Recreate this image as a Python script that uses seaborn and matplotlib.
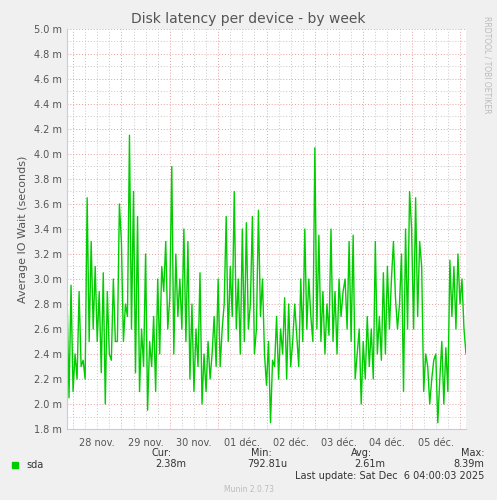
import matplotlib
matplotlib.use("Agg")
import matplotlib.pyplot as plt
import seaborn as sns
import pandas as pd
import numpy as np

day_labels = ["28 nov.", "29 nov.", "30 nov.", "01 déc.", "02 déc.", "03 déc.", "04 déc.", "05 déc."]
# hourly values (milliseconds), starting 27 nov 21:00
values = [2.9, 2.05, 2.95,
 2.1,2.4,2.2,2.9,2.3,2.35,2.2,3.65,2.5,3.3,2.6,3.1,2.5,2.9,2.25,3.05,2.0,2.9,2.4,2.35,3.0,2.5,2.5,3.6,
 3.3,2.5,2.8,2.7,4.15,2.6,3.7,2.25,3.5,2.1,2.6,2.3,3.2,1.95,2.5,2.3,2.7,2.1,3.0,2.4,3.1,2.9,3.3,2.6,
 2.85,3.9,2.4,3.2,2.7,3.0,2.6,3.4,2.5,3.3,2.2,2.8,2.1,2.6,2.3,3.05,2.0,2.4,2.1,2.5,2.2,2.4,2.7,2.3,
 3.0,2.3,2.6,2.8,3.5,2.5,3.1,2.7,3.7,2.6,3.0,2.4,3.4,2.5,3.45,2.6,2.8,3.5,2.4,2.6,3.55,2.7,3.0,2.4,
 2.15,2.5,1.85,2.35,2.3,2.7,2.2,2.6,2.4,2.85,2.2,2.8,2.3,2.5,2.8,2.55,2.3,3.0,2.5,3.4,2.6,3.0,2.7,2.5,
 4.05,2.6,3.35,2.5,2.9,2.4,2.8,2.55,3.4,2.5,2.9,2.4,3.0,2.7,2.9,3.0,2.6,3.3,2.5,3.35,2.2,2.4,2.6,2.0,
 2.5,2.2,2.7,2.3,2.6,2.2,3.3,2.4,2.7,2.35,3.05,2.4,3.1,2.6,3.0,3.3,2.85,2.6,2.8,3.2,2.1,3.4,2.6,3.7,
 3.4,2.6,3.65,2.7,3.3,3.1,2.1,2.4,2.3,2.0,2.2,2.35,2.4,1.85,2.2,2.5,2.0,2.45,2.1,3.15,2.7,3.1,2.6,3.2,
 2.8,3.0,2.6,2.4]
hours = list(range(len(values)))
df = pd.DataFrame({"hour": hours, "latency": values})

sns.set_style("white")
plt.rcParams['font.family'] = ['DejaVu Sans']
fig = plt.figure(figsize=(4.97, 5.0), dpi=100, facecolor="#F0F0F0")
ax = fig.add_axes([67/497, 71/500, 399/497, 400/500])
ax.set_facecolor("white")
sns.lineplot(data=df, x="hour", y="latency", color="#00CC00", linewidth=1, ax=ax)

xmax = len(values) - 1
ax.set_xlim(0, xmax)
ax.set_ylim(1.8, 5.0)
ax.set_yticks(np.arange(1.8, 5.01, 0.2))
ax.set_yticklabels([f"{v:.1f} m" for v in np.arange(1.8, 5.01, 0.2)], fontsize=7, color="#555555")
ax.set_yticks(np.arange(1.9, 5.0, 0.2), minor=True)
ax.set_xticks([3 + 24*k for k in range(9)])
ax.set_xticklabels([])
ax.set_xticks([15 + 24*k for k in range(8)] + [9 + 6*k for k in range(33) if (9+6*k-15) % 24 != 0 and 9+6*k <= xmax], minor=True)
for i, lab in enumerate(day_labels):
    ax.text(15 + 24*i, 1.8 - 0.07, lab, ha="center", va="top", fontsize=7, color="#555555")
ax.tick_params(axis="both", length=0, which="both")
ax.grid(True, which="major", color="#E8A0A0", linestyle=(0, (1, 2)), linewidth=0.7)
ax.grid(True, which="minor", color="#C8C8C8", linestyle=(0, (1, 2)), linewidth=0.7)
for s in ["top", "right"]:
    ax.spines[s].set_visible(False)
ax.spines["left"].set_color("#C8C8F0")
ax.spines["bottom"].set_color("#C8C8F0")
ax.set_xlabel("")
ax.set_ylabel("Average IO Wait (seconds)", fontsize=8, color="#555555")

fig.text(0.5, 1 - 19/500, "Disk latency per device - by week", ha="center", va="center", fontsize=10, color="#555555")
fig.text(487/497, 1 - 65/500, "RRDTOOL / TOBI OETIKER", rotation=270, ha="center", va="center", fontsize=5.5, color="#BBBBBB")

fig.patches.append(plt.Rectangle((12/497, 1 - 468/500), 6/497, 6/500, transform=fig.transFigure, color="#00CC00"))
fs = 7
c = "#333333"
fig.text(26/497, 1 - 465/500, "sda", fontsize=fs, color=c, va="center")
for hx, vx, h, v in [(172, 186, "Cur:", "2.38m"), (272, 287, "Min:", "792.81u"), (372, 385, "Avg:", "2.61m"), (484, 484, "Max:", "8.39m")]:
    fig.text(hx/497, 1 - 453/500, h, fontsize=fs, color=c, ha="right", va="center")
    fig.text(vx/497, 1 - 464/500, v, fontsize=fs, color=c, ha="right", va="center")
fig.text(484/497, 1 - 476/500, "Last update: Sat Dec  6 04:00:03 2025", fontsize=fs, color=c, ha="right", va="center")
fig.text(0.5, 1 - 490/500, "Munin 2.0.73", fontsize=5.5, color="#BBBBBB", ha="center", va="center")

fig.savefig("out.png", dpi=100, facecolor=fig.get_facecolor())
